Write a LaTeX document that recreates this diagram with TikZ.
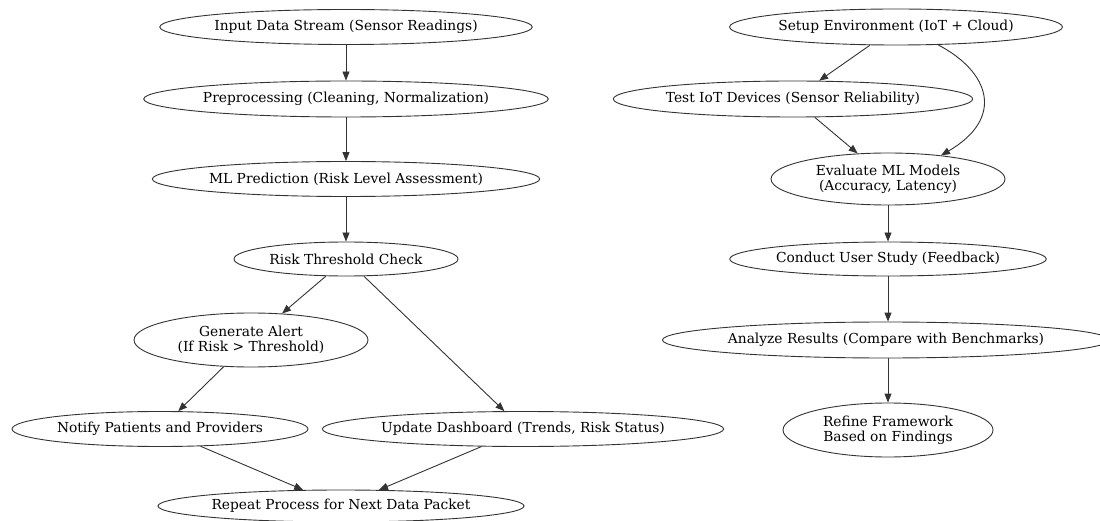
\documentclass[tikz,border=0pt]{standalone}
\usepackage{fontspec}
\setmainfont{DejaVu Serif}
\usetikzlibrary{shapes.geometric,arrows.meta}
\begin{document}
\begin{tikzpicture}[x=1pt,y=-1pt,
  ell/.style={ellipse, draw=black!80, line width=0.9pt, inner sep=0pt, align=center,
    font=\fontsize{13.8}{15}\selectfont},
  conn/.style={draw=black!80, line width=0.9pt, -{Triangle[length=9pt,width=7pt]}}]
\useasboundingbox (0,0) rectangle (1100,521);
% left column
\node[ell, minimum width=370pt, minimum height=35pt] (n1) at (346,27) {Input Data Stream (Sensor Readings)};
\node[ell, minimum width=398pt, minimum height=36pt] (n2) at (346,99) {Preprocessing (Cleaning, Normalization)};
\node[ell, minimum width=384pt, minimum height=35pt] (n3) at (346,179) {ML Prediction (Risk Level Assessment)};
\node[ell, minimum width=224pt, minimum height=34pt] (n4) at (346,259) {Risk Threshold Check};
\node[ell, minimum width=234pt, minimum height=54pt] (n5) at (251,340) {Generate Alert\\(If Risk > Threshold)};
\node[ell, minimum width=296pt, minimum height=35pt] (n6) at (160,429) {Notify Patients and Providers};
\node[ell, minimum width=396pt, minimum height=35pt] (n7) at (523,429) {Update Dashboard (Trends, Risk Status)};
\node[ell, minimum width=364pt, minimum height=32pt] (n8) at (341,506) {Repeat Process for Next Data Packet};
% right column
\node[ell, minimum width=332pt, minimum height=36pt] (n9) at (896,27) {Setup Environment (IoT + Cloud)};
\node[ell, minimum width=358pt, minimum height=36pt] (n10) at (793,99) {Test IoT Devices (Sensor Reliability)};
\node[ell, minimum width=234pt, minimum height=52pt] (n11) at (888,179) {Evaluate ML Models\\(Accuracy, Latency)};
\node[ell, minimum width=316pt, minimum height=34pt] (n12) at (888,259) {Conduct User Study (Feedback)};
\node[ell, minimum width=428pt, minimum height=36pt] (n13) at (886,340) {Analyze Results (Compare with Benchmarks)};
\node[ell, minimum width=210pt, minimum height=54pt] (n14) at (888,430) {Refine Framework\\Based on Findings};
% connectors
\draw[conn] (n1) -- (n2);
\draw[conn] (n2) -- (n3);
\draw[conn] (n3) -- (n4);
\draw[conn] (n4) -- (n5);
\draw[conn] (n4) -- (n7);
\draw[conn] (n5) -- (n6);
\draw[conn] (n6) -- (n8);
\draw[conn] (n7) -- (n8);
\draw[conn] (n9) -- (n10);
\draw[conn] (n10) -- (n11);
\draw[conn] (n9.-23) .. controls (990,72) and (1005,118) .. (n11.24);
\draw[conn] (n11) -- (n12);
\draw[conn] (n12.south -| n11) -- (n13.north -| n11);
\draw[conn] (n13.south -| n11) -- (n14);
\end{tikzpicture}
\end{document}
